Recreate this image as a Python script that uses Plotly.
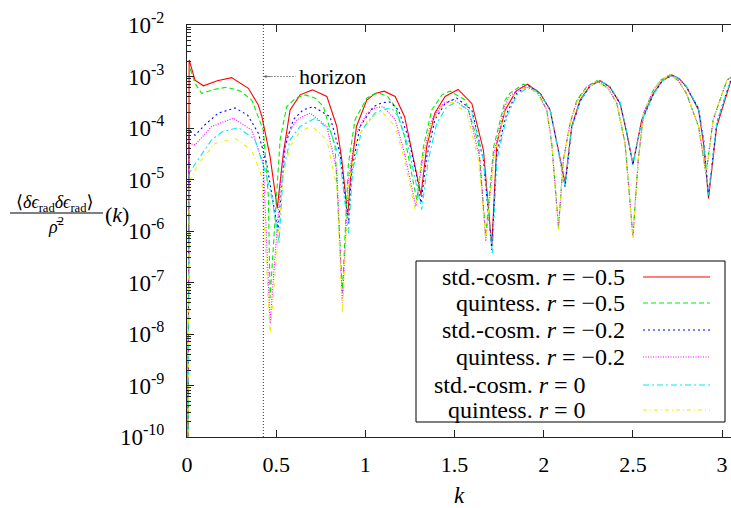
import plotly.graph_objects as go

# ---------------- data ----------------
k_red = [0.005, 0.012, 0.045, 0.092, 0.17, 0.25, 0.344, 0.40, 0.42, 0.466, 0.506, 0.54, 0.578, 0.634, 0.703, 0.784, 0.84, 0.868, 0.901, 0.92, 0.95, 1.008, 1.055, 1.105, 1.167, 1.22, 1.26, 1.312, 1.344, 1.39, 1.447, 1.52, 1.597, 1.662, 1.709, 1.737, 1.784, 1.845, 1.909, 1.98, 2.036, 2.092, 2.12, 2.157, 2.204, 2.26, 2.316, 2.37, 2.428, 2.466, 2.50, 2.55, 2.615, 2.665, 2.718, 2.76, 2.80, 2.868, 2.896, 2.924, 2.97, 3.045, 3.1]
v_red = [1e-11, 2.1e-3, 8.5e-4, 6.6e-4, 8.3e-4, 9.5e-4, 5.9e-4, 2.8e-4, 1.66e-4, 2.75e-5, 2.75e-6, 3.2e-5, 2.24e-4, 4.4e-4, 5.5e-4, 4.1e-4, 1.07e-4, 2.4e-5, 2.0e-6, 1.5e-5, 1.07e-4, 3.5e-4, 4.7e-4, 5.2e-4, 4.1e-4, 1.66e-4, 3.7e-5, 5.0e-6, 4.4e-5, 1.95e-4, 4.1e-4, 5.6e-4, 3.0e-4, 3.7e-5, 5.0e-7, 5.0e-5, 2.24e-4, 5.2e-4, 7.1e-4, 4.7e-4, 2.24e-4, 2.4e-5, 8.5e-6, 1.07e-4, 3.5e-4, 6.6e-4, 8.3e-4, 6.3e-4, 3.0e-4, 7.9e-5, 2.0e-5, 1.45e-4, 4.7e-4, 8.3e-4, 1.07e-3, 9.1e-4, 6.3e-4, 2.24e-4, 5.1e-5, 4.3e-6, 1.07e-4, 7.4e-4, 1.1e-3]

k_green = [0.005, 0.015, 0.045, 0.082, 0.15, 0.223, 0.30, 0.363, 0.428, 0.456, 0.466, 0.522, 0.559, 0.61, 0.662, 0.72, 0.765, 0.83, 0.871, 0.905, 0.942, 1.008, 1.045, 1.082, 1.125, 1.167, 1.22, 1.288, 1.326, 1.372, 1.43, 1.475, 1.56, 1.634, 1.675, 1.72, 1.784, 1.81, 1.886, 1.96, 2.017, 2.045, 2.083, 2.11, 2.148, 2.186, 2.24, 2.298, 2.36, 2.41, 2.456, 2.50, 2.53, 2.56, 2.615, 2.66, 2.709, 2.755, 2.80, 2.868, 2.91, 2.95, 3.027, 3.1]
v_green = [1e-11, 1.55e-3, 7.4e-4, 4.7e-4, 5.6e-4, 6.2e-4, 5.2e-4, 3.5e-4, 9.1e-5, 4.7e-6, 5e-8, 5.9e-5, 2.6e-4, 3.8e-4, 4.4e-4, 3.8e-4, 2.6e-4, 4.4e-5, 6.3e-8, 2.0e-5, 1.45e-4, 3.8e-4, 4.5e-4, 4.7e-4, 4.1e-4, 2.6e-4, 6.8e-5, 4.0e-6, 4.4e-5, 2.24e-4, 4.4e-4, 5.2e-4, 3.5e-4, 5.0e-5, 7.9e-7, 4.4e-5, 3.5e-4, 4.7e-4, 7.1e-4, 5.5e-4, 2.24e-4, 5.0e-5, 1.2e-6, 2.4e-5, 1.23e-4, 3.5e-4, 6.3e-4, 8.3e-4, 6.0e-4, 3.0e-4, 5.0e-5, 7.8e-7, 2.4e-5, 1.95e-4, 5.5e-4, 8.7e-4, 1.07e-3, 8.3e-4, 4.7e-4, 1.07e-4, 1.3e-5, 1.45e-4, 8.5e-4, 1.26e-3]

k_blue = [0.005, 0.012, 0.045, 0.10, 0.176, 0.27, 0.34, 0.40, 0.447, 0.51, 0.531, 0.55, 0.596, 0.65, 0.708, 0.802, 0.858, 0.905, 0.924, 0.97, 1.045, 1.095, 1.139, 1.185, 1.24, 1.288, 1.312, 1.344, 1.39, 1.447, 1.512, 1.597, 1.662, 1.709, 1.737, 1.793, 1.85, 1.915, 1.98, 2.036, 2.092, 2.12, 2.157, 2.204, 2.26, 2.316, 2.37, 2.428, 2.466, 2.50, 2.55, 2.615, 2.665, 2.718, 2.76, 2.80, 2.868, 2.896, 2.924, 2.97, 3.045, 3.1]
v_blue = [1e-11, 9.1e-5, 7.2e-5, 1.15e-4, 1.95e-4, 2.45e-4, 1.78e-4, 7.9e-5, 2.0e-5, 1.0e-6, 7.2e-6, 4.4e-5, 1.45e-4, 2.24e-4, 2.6e-4, 1.66e-4, 3.2e-5, 1.4e-6, 1.5e-5, 1.07e-4, 2.6e-4, 3.1e-4, 3.2e-4, 2.24e-4, 6.8e-5, 1.15e-5, 3.5e-6, 2.75e-5, 1.45e-4, 3.0e-4, 3.8e-4, 2.24e-4, 2.4e-5, 4.3e-7, 3.2e-5, 1.95e-4, 4.8e-4, 6.6e-4, 4.7e-4, 2.24e-4, 2.4e-5, 7.2e-6, 1.0e-4, 3.3e-4, 6.5e-4, 8.3e-4, 6.3e-4, 3.0e-4, 7.9e-5, 1.9e-5, 1.38e-4, 4.5e-4, 8.3e-4, 1.05e-3, 8.9e-4, 6.3e-4, 2.4e-4, 6.3e-5, 5.0e-6, 1.26e-4, 7.9e-4, 1.17e-3]

k_magenta = [0.005, 0.012, 0.045, 0.138, 0.26, 0.363, 0.428, 0.466, 0.53, 0.559, 0.615, 0.69, 0.784, 0.84, 0.871, 0.905, 0.942, 1.008, 1.055, 1.10, 1.167, 1.22, 1.283, 1.326, 1.372, 1.438, 1.494, 1.578, 1.643, 1.675, 1.72, 1.784, 1.81, 1.886, 1.96, 2.017, 2.045, 2.083, 2.11, 2.148, 2.186, 2.24, 2.298, 2.36, 2.41, 2.456, 2.50, 2.53, 2.56, 2.615, 2.66, 2.709, 2.755, 2.80, 2.868, 2.91, 2.95, 3.027, 3.1]
v_magenta = [1e-11, 5.0e-5, 4.7e-5, 1.07e-4, 1.55e-4, 9.1e-5, 2.0e-5, 1.6e-8, 1.6e-5, 6.8e-5, 1.45e-4, 1.95e-4, 1.07e-4, 1.5e-5, 4e-8, 9.8e-6, 6.8e-5, 1.95e-4, 2.45e-4, 2.6e-4, 1.45e-4, 3.2e-5, 3.0e-6, 3.2e-5, 1.45e-4, 3.0e-4, 3.6e-4, 2.24e-4, 2.4e-5, 6.3e-7, 3.2e-5, 2.8e-4, 4.2e-4, 6.5e-4, 5.2e-4, 2.24e-4, 5.0e-5, 1.1e-6, 2.4e-5, 1.23e-4, 3.3e-4, 6.2e-4, 8.1e-4, 6.0e-4, 3.0e-4, 5.0e-5, 7.6e-7, 2.4e-5, 1.95e-4, 5.5e-4, 8.7e-4, 1.07e-3, 8.3e-4, 4.7e-4, 1.07e-4, 1.26e-5, 1.45e-4, 8.5e-4, 1.26e-3]

k_cyan = [0.005, 0.012, 0.045, 0.138, 0.2, 0.288, 0.381, 0.437, 0.475, 0.516, 0.54, 0.578, 0.634, 0.718, 0.802, 0.858, 0.905, 0.929, 0.98, 1.054, 1.10, 1.148, 1.185, 1.24, 1.316, 1.353, 1.40, 1.457, 1.512, 1.597, 1.662, 1.712, 1.737, 1.793, 1.85, 1.915, 1.98, 2.036, 2.092, 2.12, 2.157, 2.204, 2.26, 2.316, 2.37, 2.428, 2.466, 2.50, 2.55, 2.615, 2.665, 2.718, 2.76, 2.80, 2.868, 2.896, 2.924, 2.97, 3.045, 3.1]
v_cyan = [1e-11, 1.3e-5, 2.0e-5, 5.9e-5, 8.5e-5, 1.02e-4, 5.9e-5, 1.5e-5, 4.7e-6, 5.8e-7, 1.5e-5, 5.9e-5, 1.07e-4, 1.55e-4, 9.1e-5, 2.4e-5, 9.1e-7, 1.5e-5, 9.1e-5, 1.95e-4, 2.3e-4, 2.4e-4, 1.66e-4, 4.4e-5, 2.6e-6, 2.4e-5, 1.23e-4, 2.6e-4, 3.2e-4, 1.95e-4, 2.4e-5, 3.7e-7, 2.4e-5, 1.66e-4, 4.4e-4, 6.2e-4, 4.6e-4, 2.2e-4, 2.4e-5, 7.2e-6, 1.0e-4, 3.3e-4, 6.5e-4, 8.3e-4, 6.5e-4, 3.2e-4, 8.3e-5, 1.9e-5, 1.38e-4, 4.5e-4, 8.3e-4, 1.05e-3, 8.9e-4, 6.5e-4, 2.4e-4, 6.3e-5, 5.0e-6, 1.26e-4, 7.9e-4, 1.17e-3]

k_yellow = [0.005, 0.012, 0.064, 0.157, 0.27, 0.363, 0.419, 0.466, 0.54, 0.578, 0.634, 0.70, 0.784, 0.84, 0.871, 0.905, 0.95, 1.017, 1.06, 1.10, 1.167, 1.22, 1.279, 1.316, 1.372, 1.43, 1.485, 1.569, 1.634, 1.675, 1.72, 1.784, 1.81, 1.886, 1.96, 2.017, 2.045, 2.083, 2.11, 2.148, 2.186, 2.24, 2.298, 2.36, 2.41, 2.456, 2.50, 2.53, 2.56, 2.615, 2.66, 2.709, 2.755, 2.80, 2.868, 2.91, 2.95, 3.027, 3.1]
v_yellow = [1e-11, 9.1e-6, 2.0e-5, 5.0e-5, 6.3e-5, 3.7e-5, 1.15e-5, 1e-8, 1.3e-5, 4.4e-5, 8.5e-5, 1.1e-4, 5.9e-5, 7.2e-6, 2.5e-8, 7.2e-6, 5.9e-5, 1.45e-4, 1.85e-4, 1.95e-4, 1.07e-4, 2.4e-5, 2.6e-6, 2.4e-5, 1.23e-4, 2.6e-4, 3.2e-4, 1.95e-4, 2.4e-5, 6.8e-7, 2.5e-5, 2.5e-4, 3.8e-4, 6.0e-4, 5.0e-4, 2.2e-4, 4.8e-5, 1.05e-6, 2.3e-5, 1.2e-4, 3.2e-4, 6.0e-4, 7.9e-4, 6.0e-4, 3.0e-4, 5.0e-5, 7.2e-7, 2.4e-5, 1.95e-4, 5.5e-4, 8.7e-4, 1.07e-3, 8.3e-4, 4.7e-4, 1.07e-4, 1.26e-5, 1.45e-4, 8.5e-4, 1.26e-3]

horizon_k = 0.428
x_tick_vals = [0, 0.5, 1, 1.5, 2, 2.5, 3]
x_tick_text = ["0", "0.5", "1", "1.5", "2", "2.5", "3"]
y_exponents = [-10, -9, -8, -7, -6, -5, -4, -3, -2]

legend_labels = [
    "std.-cosm. <i>r</i> = −0.5",
    "quintess. <i>r</i> = −0.5",
    "std.-cosm. <i>r</i> = −0.2",
    "quintess. <i>r</i> = −0.2",
    "std.-cosm. <i>r</i> = 0",
    "quintess. <i>r</i> = 0",
]

# ---------------- styles ----------------
FONT = "'Liberation Serif', 'DejaVu Serif', 'Times New Roman', Times, serif"
series = [
    (k_red, v_red, "#ff0000", "solid"),
    (k_green, v_green, "#00ee00", "5px,3px"),
    (k_blue, v_blue, "#0000ff", "2px,3px"),
    (k_magenta, v_magenta, "#ff00ff", "1px,1.5px"),
    (k_cyan, v_cyan, "#00eeee", "6px,3px,2px,3px"),
    (k_yellow, v_yellow, "#eeee00", "4px,3px,1px,3px"),
]

W, H = 731, 508
L, R, T, B = 187, 0, 25, 71
PW, PH = W - L - R, H - T - B


def pxx(x):
    return (x - L) / PW


def pxy(y):
    return (H - B - y) / PH


fig = go.Figure()

for (kk, vv, col, dash), name in zip(series, legend_labels):
    if len(kk) != len(vv):
        raise ValueError("length mismatch for " + name)
    fig.add_trace(go.Scatter(x=kk, y=vv, mode="lines", name=name,
                             line=dict(color=col, width=1.1, dash=dash),
                             showlegend=False, hoverinfo="skip"))

# horizon marker
fig.add_trace(go.Scatter(x=[horizon_k, horizon_k], y=[1e-10, 1e-2], mode="lines",
                         line=dict(color="#333333", width=1, dash="1px,2px"),
                         showlegend=False, hoverinfo="skip"))
fig.add_trace(go.Scatter(x=[horizon_k + 0.012, 0.61], y=[1e-3, 1e-3], mode="lines",
                         line=dict(color="#333333", width=1, dash="1px,2px"),
                         showlegend=False, hoverinfo="skip"))

annotations = [
    dict(x=horizon_k, y=-3, xref="x", yref="y", text="", showarrow=True,
         ax=9, ay=0, arrowhead=2, arrowsize=0.8, arrowwidth=0.8, arrowcolor="#666666"),
    dict(x=0.615, y=-3, xref="x", yref="y", text="horizon", showarrow=False,
         xanchor="left", yanchor="middle", font=dict(family=FONT, size=22, color="black")),
    # x-axis title
    dict(x=0.5, y=pxy(495), xref="paper", yref="paper", text="<i>k</i>", showarrow=False,
         xanchor="center", yanchor="middle", font=dict(family=FONT, size=23, color="black")),
    # y-axis title (fraction)
    dict(x=pxx(55), y=pxy(203), xref="paper", yref="paper",
         text="⟨<i>δϵ</i><sub>rad</sub><i>δϵ</i><sub>rad</sub>⟩", showarrow=False,
         xanchor="center", yanchor="middle", font=dict(family=FONT, size=18, color="black")),
    dict(x=pxx(56), y=pxy(225), xref="paper", yref="paper",
         text="<i>ρ̄</i><sup>2</sup>", showarrow=False,
         xanchor="center", yanchor="middle", font=dict(family=FONT, size=18, color="black")),
    dict(x=pxx(103), y=pxy(214), xref="paper", yref="paper",
         text="(<i>k</i>)", showarrow=False,
         xanchor="left", yanchor="middle", font=dict(family=FONT, size=22, color="black")),
]

shapes = [
    dict(type="line", xref="paper", yref="paper", x0=pxx(10), x1=pxx(103),
         y0=pxy(213), y1=pxy(213), line=dict(color="black", width=1.2)),
    # legend box
    dict(type="rect", xref="paper", yref="paper", x0=pxx(416), x1=pxx(725),
         y0=pxy(422), y1=pxy(261), line=dict(color="black", width=1),
         fillcolor="white", layer="above"),
]

legend_rows = [277, 303, 330, 357, 385, 410]
legend_right = [627, 627, 627, 627, 588, 588]
for (kk, vv, col, dash), lab, ry, rx in zip(series, legend_labels, legend_rows, legend_right):
    shapes.append(dict(type="line", xref="paper", yref="paper", x0=pxx(643), x1=pxx(710),
                       y0=pxy(ry), y1=pxy(ry), line=dict(color=col, width=1.1, dash=dash),
                       layer="above"))
    annotations.append(dict(x=pxx(rx), y=pxy(ry), xref="paper", yref="paper", text=lab,
                            showarrow=False, xanchor="right", yanchor="middle",
                            font=dict(family=FONT, size=24, color="black")))

fig.update_layout(
    width=W, height=H,
    margin=dict(l=L, r=R, t=T, b=B, pad=0),
    paper_bgcolor="white", plot_bgcolor="white",
    font=dict(family=FONT, size=22, color="black"),
    showlegend=False,
    xaxis=dict(range=[0, (W - L) / 178.36], tickvals=x_tick_vals, ticktext=x_tick_text,
               ticks="inside", ticklen=7, tickcolor="#222222", showline=True,
               linecolor="#222222", linewidth=1, mirror="ticks", showgrid=False,
               zeroline=False, ticklabelstandoff=8,
               tickfont=dict(family=FONT, size=22, color="black")),
    yaxis=dict(type="log", range=[-10, -2],
               tickvals=[10.0 ** e for e in y_exponents],
               ticktext=["10<sup>%d</sup>" % e for e in y_exponents],
               ticks="inside", ticklen=7, tickcolor="#222222", showline=True,
               linecolor="#222222", linewidth=1, mirror=False, showgrid=False,
               zeroline=False, ticklabelstandoff=17,
               minor=dict(ticks="inside", ticklen=4, dtick="D1", tickcolor="#222222",
                          showgrid=False),
               tickfont=dict(family=FONT, size=23, color="black")),
    annotations=annotations,
    shapes=shapes,
)

fig.write_html("out.html", config={"displayModeBar": False},
               post_script="document.body.style.margin='0';document.body.style.overflow='hidden';")
